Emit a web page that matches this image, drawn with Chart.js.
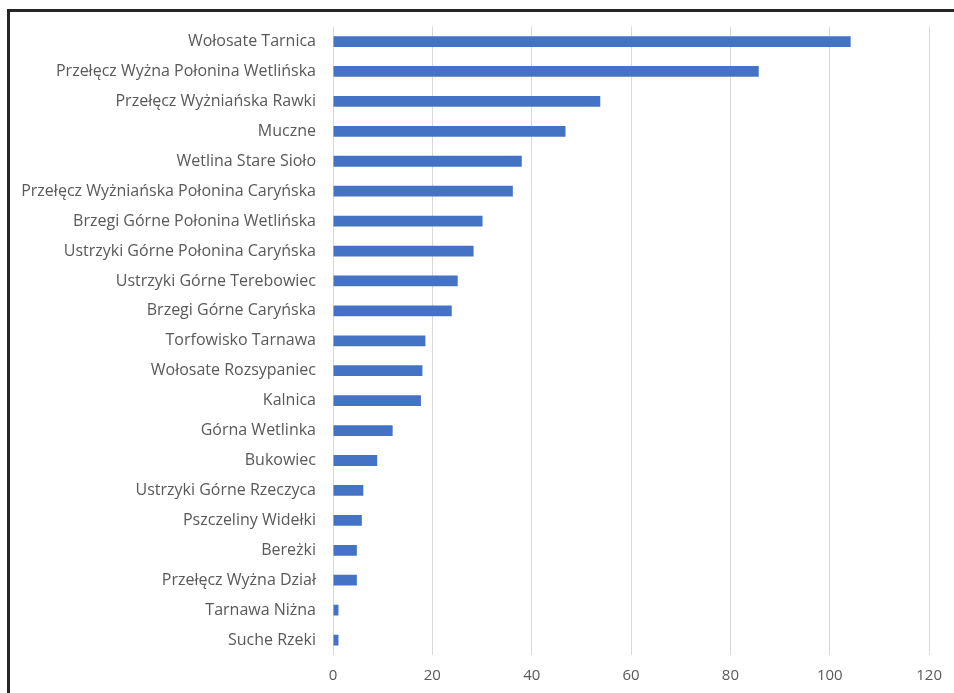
<!DOCTYPE html>
<html>
<head>
<meta charset="utf-8">
<script src="https://cdn.jsdelivr.net/npm/chart.js@4.4.1/dist/chart.umd.min.js"></script>
<style>
  html, body { margin: 0; padding: 0; background: #fff; }
  #wrap { position: relative; width: 954px; height: 693px; }
  #frame {
    position: absolute; left: 7px; top: 9px; right: 0; bottom: 0;
    border-top: 3px solid #262626; border-left: 3px solid #262626;
    pointer-events: none;
  }
</style>
</head>
<body>
<div id="wrap">
  <canvas id="chart" width="954" height="693"></canvas>
  <div id="frame"></div>
</div>
<script>
// stacje / odcinki (kolejność od góry)
const labels = [
  "Wołosate Tarnica",
  "Przełęcz Wyżna Połonina Wetlińska",
  "Przełęcz Wyżniańska Rawki",
  "Muczne",
  "Wetlina Stare Sioło",
  "Przełęcz Wyżniańska Połonina Caryńska",
  "Brzegi Górne Połonina Wetlińska",
  "Ustrzyki Górne Połonina Caryńska",
  "Ustrzyki Górne Terebowiec",
  "Brzegi Górne Caryńska",
  "Torfowisko Tarnawa",
  "Wołosate Rozsypaniec",
  "Kalnica",
  "Górna Wetlinka",
  "Bukowiec",
  "Ustrzyki Górne Rzeczyca",
  "Pszczeliny Widełki",
  "Bereżki",
  "Przełęcz Wyżna Dział",
  "Tarnawa Niżna",
  "Suche Rzeki"
];

const values = [
  104.2, 85.7, 53.8, 46.8, 38.0, 36.2, 30.1, 28.3, 25.1, 23.9,
  18.6, 18.0, 17.7, 12.0, 8.9, 6.1, 5.8, 4.8, 4.8, 1.1, 1.1
];

const xTicks = [0, 20, 40, 60, 80, 100, 120];

const textColor = "#595959";
const fontFamily = "'Open Sans', sans-serif";

new Chart(document.getElementById("chart"), {
  type: "bar",
  data: {
    labels: labels,
    datasets: [{
      data: values,
      backgroundColor: "#4472C4",
      borderWidth: 0,
      barPercentage: 1,
      categoryPercentage: 0.36
    }]
  },
  options: {
    indexAxis: "y",
    responsive: false,
    animation: false,
    layout: { padding: { top: 25, right: 23, left: 0, bottom: 0 } },
    plugins: {
      legend: { display: false },
      tooltip: { enabled: false }
    },
    scales: {
      x: {
        min: 0,
        max: 120,
        afterBuildTicks: (scale) => {
          scale.ticks = xTicks.map(v => ({ value: v }));
        },
        afterFit: (scale) => { scale.height = 38; },
        grid: { color: "#d9d9d9", lineWidth: 1, drawTicks: false },
        border: { display: false },
        ticks: {
          color: textColor,
          padding: 12,
          font: { family: fontFamily, size: 15 }
        }
      },
      y: {
        afterFit: (scale) => { scale.width = 333; },
        grid: { display: false, drawTicks: false },
        border: { display: false },
        ticks: {
          color: textColor,
          padding: 17,
          autoSkip: false,
          font: { family: fontFamily, size: 16 }
        }
      }
    }
  }
});
</script>
</body>
</html>
